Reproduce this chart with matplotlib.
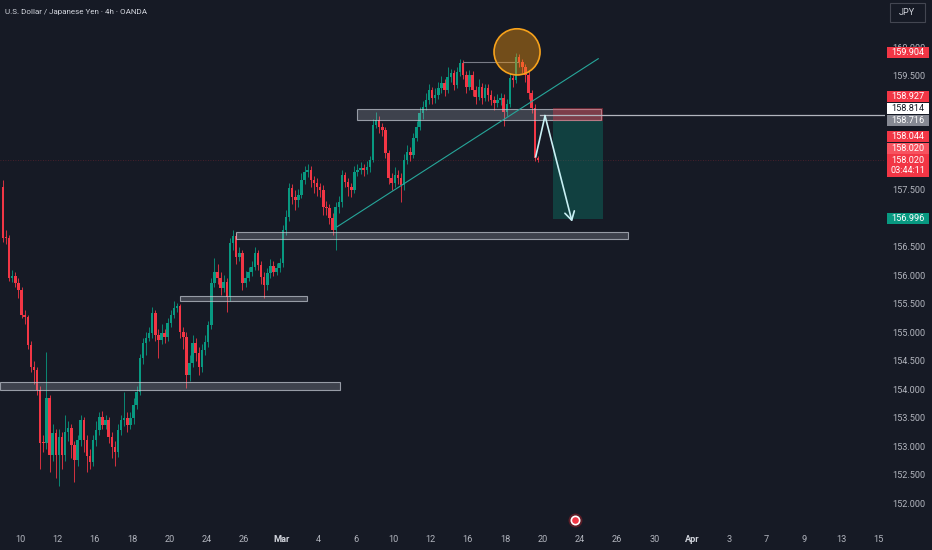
import matplotlib
matplotlib.use('Agg')
import matplotlib.pyplot as plt
from matplotlib.patches import Rectangle, Ellipse
import numpy as np

# USD/JPY 4h candles (one value per candle)
first_open = 157.55
closes = [156.66, 156.65, 155.96, 155.98, 155.87, 155.75, 155.31, 155.27, 154.78, 154.39,
          154.34, 153.99, 153.06, 153.05, 153.85, 152.85, 153.24, 152.85, 153.17, 152.85,
          153.25, 153.32, 153.02, 152.76, 153.11, 153.46, 153.11, 152.83, 152.73, 153.11,
          153.29, 153.52, 153.38, 153.46, 153.17, 152.99, 152.90, 153.29, 153.46, 153.50,
          153.38, 153.50, 153.73, 153.96, 154.55, 154.82, 154.90, 154.99, 155.34, 154.96,
          154.87, 154.99, 154.92, 155.17, 155.31, 155.43, 155.46, 155.01, 154.92, 154.25,
          154.46, 154.82, 154.64, 154.39, 154.69, 154.83, 155.13, 155.87, 156.06, 155.96,
          155.78, 155.89, 155.62, 156.57, 156.69, 156.32, 156.39, 155.87, 155.96, 156.06,
          156.15, 156.39, 156.18, 155.97, 155.83, 156.04, 156.17, 156.06, 156.13, 156.22,
          156.80, 157.03, 157.54, 157.38, 157.32, 157.41, 157.68, 157.82, 157.85, 157.68,
          157.62, 157.55, 157.50, 157.20, 157.18, 157.01, 156.80, 157.20, 157.29, 157.76,
          157.64, 157.55, 157.50, 157.82, 157.85, 157.89, 157.85, 157.90, 158.03, 158.64,
          158.73, 158.61, 158.55, 158.15, 157.71, 157.62, 157.76, 157.71, 157.59, 158.03,
          158.17, 158.11, 158.41, 158.61, 158.85, 158.96, 159.08, 159.25, 159.11, 159.17,
          159.29, 159.38, 159.25, 159.48, 159.55, 159.34, 159.57, 159.73, 159.52, 159.31,
          159.52, 159.25, 159.13, 159.31, 159.11, 159.29, 159.17, 159.08, 159.03, 159.08,
          159.11, 158.87, 159.00, 159.46, 159.43, 159.83, 159.75, 159.66, 159.52, 159.20,
          158.94, 158.06, 158.02]
highs = [157.68, 156.80, 156.70, 156.10, 156.05, 155.95, 155.80, 155.40, 155.30, 154.85,
         154.50, 154.40, 154.05, 153.20, 154.66, 153.90, 153.40, 153.30, 153.30, 153.25,
         153.55, 153.45, 153.40, 153.10, 153.20, 153.55, 153.52, 153.20, 152.95, 153.20,
         153.45, 153.60, 153.62, 153.55, 153.52, 153.25, 153.10, 153.40, 153.55, 153.96,
         153.60, 153.60, 153.85, 154.05, 154.62, 154.90, 155.00, 155.10, 155.45, 155.40,
         155.05, 155.15, 155.05, 155.25, 155.40, 155.55, 155.52, 155.50, 155.10, 155.00,
         154.60, 154.95, 154.90, 154.75, 154.80, 154.95, 155.20, 155.95, 156.30, 156.20,
         156.05, 156.00, 155.95, 156.65, 156.80, 156.75, 156.50, 156.45, 156.08, 156.15,
         156.25, 156.50, 156.45, 156.25, 156.05, 156.12, 156.28, 156.25, 156.22, 156.30,
         156.88, 157.15, 157.62, 157.60, 157.50, 157.52, 157.80, 157.92, 157.95, 157.92,
         157.75, 157.70, 157.62, 157.58, 157.30, 157.25, 157.10, 157.28, 157.40, 157.85,
         157.82, 157.70, 157.62, 157.92, 157.95, 157.98, 157.95, 158.00, 158.10, 158.75,
         158.87, 158.80, 158.68, 158.60, 158.20, 157.80, 157.90, 157.85, 157.80, 158.12,
         158.28, 158.25, 158.50, 158.70, 158.95, 159.05, 159.20, 159.35, 159.30, 159.28,
         159.40, 159.50, 159.45, 159.65, 159.62, 159.60, 159.66, 159.80, 159.78, 159.58,
         159.60, 159.58, 159.32, 159.45, 159.38, 159.36, 159.35, 159.25, 159.15, 159.18,
         159.20, 159.18, 159.10, 159.55, 159.52, 159.90, 159.88, 159.80, 159.70, 159.58,
         159.25, 159.00, 158.10]
lows = [156.58, 156.55, 155.90, 155.88, 155.80, 155.60, 155.25, 155.15, 154.70, 154.30,
        154.10, 153.90, 152.60, 152.90, 152.95, 152.55, 152.75, 152.45, 152.30, 152.60,
        152.75, 153.10, 152.80, 152.38, 152.65, 153.00, 152.90, 152.55, 152.60, 152.65,
        153.00, 153.20, 153.30, 153.30, 153.05, 152.80, 152.65, 152.82, 153.20, 153.35,
        153.25, 153.30, 153.40, 153.65, 153.90, 154.45, 154.60, 154.85, 154.90, 154.85,
        154.55, 154.80, 154.82, 154.85, 155.10, 155.25, 155.35, 154.90, 154.70, 154.03,
        154.15, 154.40, 154.50, 154.25, 154.30, 154.60, 154.75, 155.05, 155.80, 155.85,
        155.65, 155.70, 155.36, 155.55, 156.45, 156.20, 156.25, 155.75, 155.80, 155.90,
        155.98, 156.10, 156.10, 155.85, 155.60, 155.75, 155.95, 155.98, 156.00, 156.05,
        156.15, 156.70, 156.95, 157.25, 157.15, 157.20, 157.35, 157.60, 157.72, 157.55,
        157.45, 157.40, 157.38, 157.05, 157.05, 156.90, 156.70, 156.45, 157.10, 157.20,
        157.55, 157.40, 157.38, 157.45, 157.75, 157.78, 157.75, 157.78, 157.82, 157.98,
        158.58, 158.50, 158.45, 158.05, 157.60, 157.50, 157.55, 157.60, 157.29, 157.50,
        157.95, 158.00, 158.05, 158.35, 158.55, 158.75, 158.90, 159.00, 159.00, 159.02,
        159.10, 159.20, 159.15, 159.20, 159.40, 159.25, 159.28, 159.50, 159.45, 159.20,
        159.25, 159.15, 159.00, 159.08, 159.00, 159.05, 159.05, 158.98, 158.90, 158.95,
        158.98, 158.62, 158.80, 158.95, 159.30, 159.38, 159.65, 159.55, 159.40, 159.10,
        158.85, 158.00, 157.99]
opens = [first_open] + closes[:-1]

# date ticks: trading-day offset from Feb 10 (6 candles per day)
tick_days = [0, 2, 4, 6, 8, 10, 12, 14, 16, 18, 20, 22, 24, 26, 28, 30, 32, 34, 36, 38, 40, 42, 44, 46]
tick_labels = ['10', '12', '16', '18', '20', '24', '26', 'Mar', '4', '6', '10', '12', '16', '18',
               '20', '24', '26', '30', 'Apr', '3', '7', '9', '13', '15']

# price scale levels; the ones covered by tags are not shown
scale_levels = [152.0, 152.5, 153.0, 153.5, 154.0, 154.5, 155.0, 155.5, 156.0, 156.5,
                157.0, 157.5, 158.0, 158.5, 159.0, 159.5, 160.0]
hidden_levels = [157.0, 158.0, 158.5, 159.0]

# drawn levels (candle index, price)
support_zones = [(-1.0, 108.4, 153.99, 154.13),
                 (57.0, 97.8, 155.55, 155.64),
                 (75.0, 201.0, 156.64, 156.76),
                 (113.8, 192.3, 158.73, 158.91)]
entry, stop, target = 158.716, 158.927, 156.996
trend_x, trend_y = [107.4, 191.4], [156.85, 159.80]
path_x, path_y = [171.3, 174.3, 183.0], [158.08, 158.80, 156.94]
ray_level = 158.814
last_price = 158.020

# right scale labels (value, face, text)
price_tags = [('159.904', '#f23645', 'white'), ('158.927', '#f23645', 'white'),
              ('158.814', '#ffffff', '#131722'), ('158.716', '#868993', 'white'),
              ('158.044', '#f23645', 'white'), ('158.020', '#f7525f', 'white'),
              ('158.020', '#f23645', 'white'), ('156.996', '#089981', 'white')]
tag_shift = [0, -12, -6, 0, -22, -12, 0, 0]

BG = '#161a25'
UP, DOWN = '#089981', '#f23645'
TXT = '#b2b5be'
plt.rcParams['font.family'] = ['Roboto', 'DejaVu Sans']

W, H = 932, 550
fig = plt.figure(figsize=(W / 100, H / 100), dpi=100)
fig.patch.set_facecolor(BG)
ax = fig.add_axes([0, 25 / H, 885 / W, 525 / H])
ax.set_facecolor(BG)
ax.set_xlim(-0.93, 283.6)
ax.set_ylim(151.62, 160.83)

x = np.arange(len(closes))
o = np.array(opens)
c = np.array(closes)
col = [UP if cc >= oo else DOWN for oo, cc in zip(o, c)]
ax.vlines(x, lows, highs, colors=col, lw=0.6, zorder=3)
body = np.where(np.abs(c - o) < 0.015, 0.015, c - o)
ax.bar(x, body, bottom=o, width=0.8, color=col, lw=0, zorder=4)

# last price dotted line
ax.axhline(last_price, color=DOWN, lw=0.6, ls=(0, (1, 2)), alpha=0.3, zorder=1)

for x0, x1, lo, hi in support_zones:
    ax.add_patch(Rectangle((x0, lo), x1 - x0, hi - lo, fc=(0.72, 0.74, 0.78, 0.25),
                           ec=(0.78, 0.8, 0.84, 0.7), lw=0.8, zorder=5))

# short position zones
ax.add_patch(Rectangle((176.9, entry), 16.0, stop - entry, fc=DOWN, alpha=0.35, lw=0, zorder=5))
ax.add_patch(Rectangle((176.9, target), 16.0, entry - target, fc=UP, alpha=0.3, lw=0, zorder=2))

# small range line at the top
ax.plot([148.0, 165.6], [159.75, 159.75], color='#787b86', lw=0.8, zorder=3)
ax.plot([148.0, 148.0], [159.75, 159.62], color='#787b86', lw=0.8, zorder=3)

ax.plot(trend_x, trend_y, color='#26a69a', lw=0.8, zorder=6)
ax.plot([172.7, 283.6], [ray_level, ray_level], color='#b2b5be', lw=0.9, zorder=6)

ax.add_patch(Ellipse((165.3, 159.92), 14.8, 0.81, fc=(0.95, 0.58, 0.05, 0.42),
                     ec='#f7a21b', lw=1.2, zorder=7))

ax.plot(path_x[:2], path_y[:2], color='#c8f0f4', lw=1.2, zorder=8)
ax.annotate('', xy=(path_x[2], path_y[2]), xytext=(path_x[1], path_y[1]),
            arrowprops=dict(arrowstyle='->,head_length=0.6,head_width=0.35', color='#c8f0f4',
                            lw=1.2, shrinkA=0, shrinkB=0), zorder=8)

# event marker on the time scale
ax.plot([184], [151.71], marker='o', ms=9, mfc='#5a1d27', mec='#5a1d27', clip_on=False, zorder=9)
ax.plot([184], [151.71], marker='o', ms=6, mfc='#f23645', mec='white', mew=1.2, clip_on=False, zorder=10)

# axes styling
for s in ax.spines.values():
    s.set_visible(False)
ax.yaxis.tick_right()
ax.set_yticks(scale_levels)
ax.set_yticklabels(['' if v in hidden_levels else '%.3f' % v for v in scale_levels])
ax.tick_params(axis='y', length=0, pad=5, labelsize=6.6, labelcolor=TXT)
ax.set_xticks([5.5 + 6 * d for d in tick_days])
ax.set_xticklabels(tick_labels)
ax.tick_params(axis='x', length=0, pad=7, labelsize=6.6, labelcolor=TXT)
for t in ax.get_xticklabels():
    if t.get_text() in ('Mar', 'Apr'):
        t.set_color('#d1d4dc')
        t.set_fontweight('bold')

# price tags on the right scale
for (txt, fc, tc), dy in zip(price_tags, tag_shift):
    ypx = ax.transData.transform((0, float(txt)))[1] - dy
    if txt == '158.020' and dy == 0:
        fig.patches.append(Rectangle((887 / W, (ypx - 17) / H), 42 / W, 23 / H, fc=fc, lw=0,
                                     transform=fig.transFigure, zorder=5))
        fig.text(908 / W, (ypx - 0.5) / H, txt, color=tc, fontsize=6.6, ha='center', va='center', zorder=6)
        fig.text(908 / W, (ypx - 10) / H, '03:44:11', color=tc, fontsize=6.6, ha='center', va='center', zorder=6)
        continue
    fig.patches.append(Rectangle((887 / W, (ypx - 5.5) / H), 42 / W, 11 / H, fc=fc, lw=0,
                                 transform=fig.transFigure, zorder=5))
    fig.text(908 / W, ypx / H, txt, color=tc, fontsize=6.6, ha='center', va='center', zorder=6)

fig.text(5 / W, 1 - 12 / H, 'U.S. Dollar / Japanese Yen · 4h · OANDA', color='#d1d4dc',
         fontsize=5.8, ha='left', va='center')
fig.patches.append(Rectangle((890 / W, 1 - 22 / H), 35 / W, 19 / H, fc=BG, ec='#434651', lw=0.8,
                             transform=fig.transFigure))
fig.text(907 / W, 1 - 12.5 / H, 'JPY', color='#d1d4dc', fontsize=6.6, ha='center', va='center')

fig.savefig('out.png', dpi=100, facecolor=BG)
